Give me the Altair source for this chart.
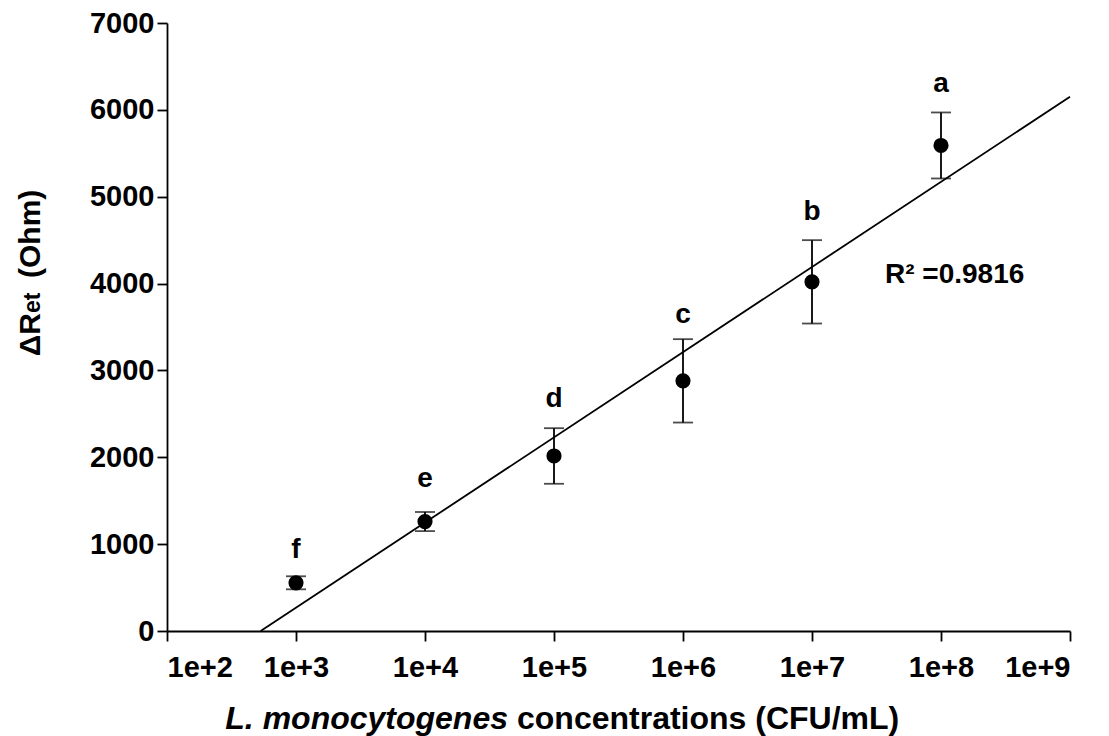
import altair as alt
import numpy as np
import pandas as pd

# ---- data ----
conc_log = [3, 4, 5, 6, 7, 8]              # log10 CFU/mL
mean_ret = [555, 1260, 2015, 2880, 4020, 5590]
err_ret = [75, 110, 320, 480, 480, 380]
letters = ["f", "e", "d", "c", "b", "a"]
letter_y = [840, 1657, 2578, 3544, 4730, 6203]
x_ticks = [2, 3, 4, 5, 6, 7, 8, 9]
y_ticks = [0, 1000, 2000, 3000, 4000, 5000, 6000, 7000]
r2_text = ["R\u00b2 =0.9816"]
r2_pos = [7.566, 4005]

FONT = "Liberation Sans"

df = pd.DataFrame({
    "logc": conc_log,
    "mean": mean_ret,
    "lo": [m - e for m, e in zip(mean_ret, err_ret)],
    "hi": [m + e for m, e in zip(mean_ret, err_ret)],
    "letter": letters,
    "ly": letter_y,
})

# linear fit on log concentration
slope, intercept = np.polyfit(conc_log, mean_ret, 1)
x0 = -intercept / slope
line_df = pd.DataFrame({"logc": [x0, 9.0], "fit": [0.0, slope * 9.0 + intercept]})

ann_df = pd.DataFrame({"logc": [r2_pos[0]], "mean": [r2_pos[1]], "t": r2_text})

xscale = alt.Scale(domain=[2, 9], nice=False, zero=False)
yscale = alt.Scale(domain=[0, 7000], nice=False)
xaxis = alt.Axis(values=x_ticks, labelExpr="'1e+' + datum.value", title=None,
                 labelPadding=12, labelFontSize=29)
yaxis = alt.Axis(values=y_ticks, format="d", title=None, labelPadding=3, labelFontSize=29)


def X(field="logc"):
    return alt.X(f"{field}:Q", scale=xscale, axis=xaxis)


def Y(field):
    return alt.Y(f"{field}:Q", scale=yscale, axis=yaxis)


base = alt.Chart(df)

fit_line = alt.Chart(line_df).mark_line(color="black", strokeWidth=1.8).encode(
    x=X(), y=Y("fit"))

bars = base.mark_rule(color="black", strokeWidth=1.8).encode(
    x=X(), y=Y("lo"), y2="hi:Q")
caps_lo = base.mark_tick(orient="horizontal", size=20, thickness=1.8, color="black").encode(
    x=X(), y=Y("lo"))
caps_hi = base.mark_tick(orient="horizontal", size=20, thickness=1.8, color="black").encode(
    x=X(), y=Y("hi"))
points = base.mark_circle(size=230, color="black", opacity=1).encode(
    x=X(), y=Y("mean"))
labels = base.mark_text(font=FONT, fontSize=28, fontWeight="bold", color="black",
                        align="center", baseline="alphabetic").encode(
    x=X(), y=Y("ly"), text="letter:N")
r2 = alt.Chart(ann_df).mark_text(font=FONT, fontSize=28, fontWeight="bold", color="black",
                                 align="left", baseline="alphabetic").encode(
    x=X(), y=Y("mean"), text="t:N")

# x-axis title in two styles
xt1 = alt.Chart(pd.DataFrame({"t": ["L. monocytogenes"]})).mark_text(
    font=FONT, fontSize=32, fontWeight="bold", fontStyle="italic", color="black",
    align="right", baseline="alphabetic").encode(
    x=alt.value(341), y=alt.value(706), text="t:N")
xt2 = alt.Chart(pd.DataFrame({"t": ["concentrations (CFU/mL)"]})).mark_text(
    font=FONT, fontSize=32, fontWeight="bold", color="black",
    align="left", baseline="alphabetic").encode(
    x=alt.value(350), y=alt.value(706), text="t:N")

# y-axis title with smaller "et"
yt1 = alt.Chart(pd.DataFrame({"t": ["\u0394R"]})).mark_text(
    font=FONT, fontSize=30, fontWeight="bold", color="black", angle=270,
    align="right", baseline="alphabetic").encode(
    x=alt.value(-127), y=alt.value(290), text="t:N")
yt2 = alt.Chart(pd.DataFrame({"t": ["et"]})).mark_text(
    font=FONT, fontSize=23, fontWeight="bold", color="black", angle=270,
    align="left", baseline="alphabetic").encode(
    x=alt.value(-127), y=alt.value(290), text="t:N")
yt3 = alt.Chart(pd.DataFrame({"t": ["(Ohm)"]})).mark_text(
    font=FONT, fontSize=30, fontWeight="bold", color="black", angle=270,
    align="left", baseline="alphabetic").encode(
    x=alt.value(-127), y=alt.value(255), text="t:N")

chart = alt.layer(fit_line, bars, caps_lo, caps_hi, points, labels, r2,
                  xt1, xt2, yt1, yt2, yt3).properties(
    width=903, height=608,
    autosize=alt.AutoSizeParams(type="none"),
    padding={"left": 167, "top": 23, "right": 39, "bottom": 105},
    background="white",
).configure_view(stroke=None).configure_axis(
    grid=False, domainColor="black", domainWidth=1.8, tickColor="black",
    tickSize=10, tickWidth=1.8, labelFont=FONT, labelFontWeight="bold",
    labelColor="black",
)

chart.save("out.html", embed_options={"renderer": "svg", "actions": False})
